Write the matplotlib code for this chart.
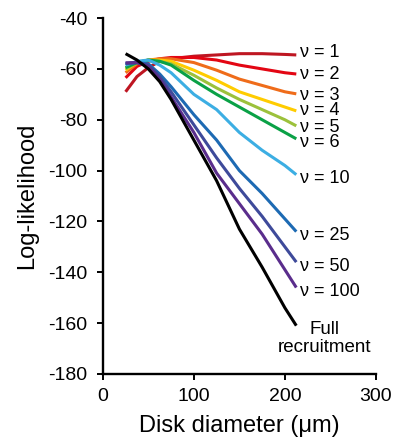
import matplotlib
matplotlib.use("Agg")
import matplotlib.pyplot as plt

plt.rcParams['font.family'] = ['Liberation Sans', 'DejaVu Sans']
plt.rcParams['axes.unicode_minus'] = False

# disk diameters (um)
diam = [25, 37.5, 50, 62.5, 75, 100, 125, 150, 175, 200, 212.5]

# log-likelihood curves
nu_1 = [-69, -63, -59.5, -57, -56, -55, -54.5, -54, -54, -54.3, -54.5]
nu_2 = [-63.5, -59, -57, -56, -55.5, -55.5, -56.5, -58.5, -60, -61.5, -62]
nu_3 = [-61.5, -58, -56.5, -56, -56, -57.5, -60.5, -64, -66.5, -69, -69.8]
nu_4 = [-60.5, -57.5, -56.5, -56.5, -57, -60.5, -64.5, -69, -72, -75, -76.5]
nu_5 = [-60, -57.5, -56.5, -57, -58, -62.5, -67.5, -72, -76, -80, -82.4]
nu_6 = [-59.5, -57.5, -56.5, -57, -58.5, -64.5, -70, -75, -80, -85, -87.5]
nu_10 = [-58.5, -57, -56.5, -58.5, -61.5, -70, -76, -85, -92, -98, -101.6]
nu_25 = [-58, -57.5, -58, -62, -67, -78, -88, -100, -109, -119, -124]
nu_50 = [-57.8, -57.5, -58.5, -63, -69, -82, -95, -107, -118, -130, -136]
nu_100 = [-57.6, -57.5, -59, -64, -71, -85, -101, -113, -125, -139, -146]
full = [-54, -56.5, -60, -65, -72, -88, -104, -123, -138, -154, -161]

series = [nu_1, nu_2, nu_3, nu_4, nu_5, nu_6, nu_10, nu_25, nu_50, nu_100]
labels = ["ν = 1", "ν = 2", "ν = 3", "ν = 4", "ν = 5", "ν = 6",
          "ν = 10", "ν = 25", "ν = 50", "ν = 100"]
colors = ["#BE1622", "#E30613", "#EF6C1A", "#FFCC00", "#9CC13B", "#0AA146",
          "#3CAEE3", "#1D6AB3", "#3E4A9A", "#5A2D8C"]
# small vertical nudges (points) for the end labels, as in the original
nudges = [2, -0.5, -1.5, 0.5, -1, -2.5, -2.5, -2.5, -3, -3]

fig = plt.figure(figsize=(3.97, 4.41), dpi=100)
ax = fig.add_axes([0.259, 0.152, 0.688, 0.807])

# draw from weakest to strongest so the black line sits on top
for y, lab, c, dy in zip(series, labels, colors, nudges):
    ax.plot(diam, y, color=c, lw=2.2, solid_capstyle='butt')
    ax.annotate(lab, (diam[-1], y[-1]), xytext=(3, dy), textcoords='offset points',
                ha='left', va='center', fontsize=13)
ax.plot(diam, full, color='black', lw=2.2, solid_capstyle='butt')
ax.text(244, -166, "Full\nrecruitment", ha='center', va='center',
        fontsize=13.5, multialignment='center', linespacing=1.1)

ax.set_xlim(0, 300)
ax.set_ylim(-180, -40)
ax.set_xticks([0, 100, 200, 300])
ax.set_yticks(range(-180, -39, 20))
for s in ['top', 'right']:
    ax.spines[s].set_visible(False)
for s in ['left', 'bottom']:
    ax.spines[s].set_linewidth(1.7)
ax.tick_params(direction='out', length=4.3, width=1.4, labelsize=14)
ax.tick_params(axis='y', pad=7)
ax.tick_params(axis='x', pad=6)
ax.set_xlabel("Disk diameter (μm)", fontsize=17, labelpad=7)
ax.set_ylabel("Log-likelihood", fontsize=17, labelpad=7)

fig.savefig("out.png", dpi=100)
